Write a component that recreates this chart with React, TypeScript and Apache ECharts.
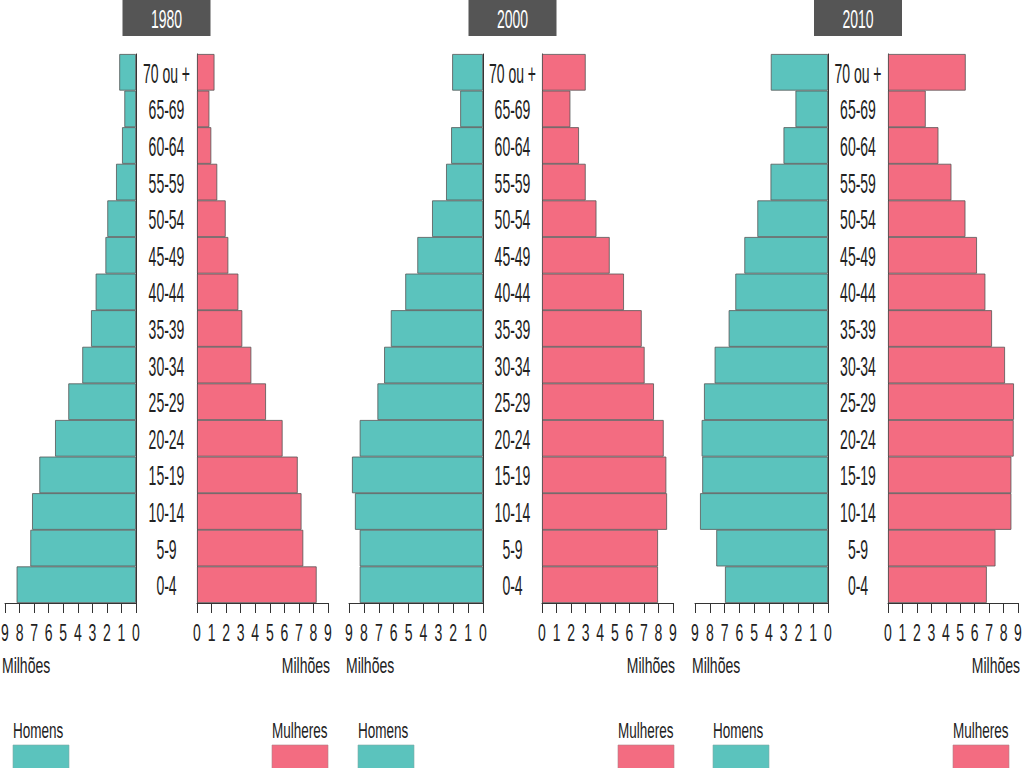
import React, { useEffect, useRef } from "react";
import * as echarts from "echarts";

const ageGroups = ["0-4", "5-9", "10-14", "15-19", "20-24", "25-29", "30-34", "35-39", "40-44", "45-49", "50-54", "55-59", "60-64", "65-69", "70 ou +"];
const years = ["1980", "2000", "2010"];
const men1980 = [8.2, 7.26, 7.14, 6.64, 5.56, 4.65, 3.69, 3.09, 2.77, 2.1, 1.97, 1.37, 0.96, 0.8, 1.15];
const women1980 = [8.22, 7.3, 7.18, 6.92, 5.88, 4.74, 3.73, 3.11, 2.84, 2.15, 1.97, 1.39, 0.98, 0.85, 1.2];
const men2000 = [8.28, 8.28, 8.6, 8.8, 8.28, 7.09, 6.64, 6.19, 5.22, 4.41, 3.42, 2.48, 2.14, 1.53, 2.07];
const women2000 = [7.97, 7.97, 8.59, 8.54, 8.36, 7.69, 7.05, 6.85, 5.63, 4.65, 3.74, 3.0, 2.54, 1.95, 3.0];
const men2010 = [6.97, 7.56, 8.66, 8.51, 8.55, 8.39, 7.67, 6.72, 6.27, 5.66, 4.78, 3.89, 3.01, 2.2, 3.87];
const women2010 = [6.84, 7.44, 8.54, 8.54, 8.7, 8.72, 8.1, 7.2, 6.74, 6.16, 5.36, 4.39, 3.49, 2.61, 5.38];
const tickValues = [0, 1, 2, 3, 4, 5, 6, 7, 8, 9];
const menLabel = "Homens";
const womenLabel = "Mulheres";
const unitLabel = "Milhões";

const menSeries = [men1980, men2000, men2010];
const womenSeries = [women1980, women2000, women2010];

const FONT = "'Liberation Sans', Arial, Helvetica, sans-serif";
const TEAL = "#5bc3bd";
const PINK = "#f36c81";
const BORDER = "#555555";
const AXIS = "#333";
const TEXT = "#222";

// layout of the three panels
const panels = [
  { menL: 5, menR: 136, womL: 197, womR: 328, homX: 13, mulX: 272 },
  { menL: 349, menR: 483, womL: 542, womR: 673, homX: 358, mulX: 618 },
  { menL: 695, menR: 828, womL: 888, womR: 1018, homX: 713, mulX: 953 },
];
const TOP = 54;
const BOTTOM_Y = 603;

function txt(text: string, x: number, y: number, size: number, sy: number, align: string, fill = TEXT) {
  return {
    type: "text",
    x,
    y,
    scaleX: 1,
    scaleY: sy,
    silent: true,
    style: { text, fill, fontSize: size, fontFamily: FONT, align, verticalAlign: "middle" },
  };
}

export default function App() {
  const ref = useRef<HTMLDivElement>(null);
  useEffect(() => {
    if (!ref.current) return;
    const chart = echarts.init(ref.current, undefined, { renderer: "svg" });
    const grid: any[] = [];
    const xAxis: any[] = [];
    const yAxis: any[] = [];
    const series: any[] = [];
    const h = BOTTOM_Y - TOP;

    panels.forEach((p, i) => {
      grid.push({ left: p.menL, top: TOP, width: p.menR - p.menL, height: h });
      grid.push({ left: p.womL, top: TOP, width: p.womR - p.womL, height: h });
      const xCommon = {
        type: "value",
        min: 0,
        max: 9,
        interval: 1,
        position: "bottom",
        splitLine: { show: false },
        axisLine: { show: true, lineStyle: { color: AXIS, width: 1 } },
        axisTick: { show: true, length: 10, lineStyle: { color: AXIS } },
        axisLabel: { show: false },
      };
      xAxis.push({ ...xCommon, gridIndex: 2 * i, inverse: true });
      xAxis.push({ ...xCommon, gridIndex: 2 * i + 1 });
      const yCommon = {
        type: "category",
        data: ageGroups,
        axisLine: { show: true, lineStyle: { color: AXIS, width: 1 } },
        axisTick: { show: false },
        axisLabel: { show: false },
        splitLine: { show: false },
      };
      yAxis.push({ ...yCommon, gridIndex: 2 * i, position: "right" });
      yAxis.push({ ...yCommon, gridIndex: 2 * i + 1, position: "left" });
      series.push({
        type: "bar",
        name: menLabel + " " + years[i],
        xAxisIndex: 2 * i,
        yAxisIndex: 2 * i,
        data: menSeries[i],
        barCategoryGap: "0%",
        itemStyle: { color: TEAL, borderColor: BORDER, borderWidth: 0.8 },
      });
      series.push({
        type: "bar",
        name: womenLabel + " " + years[i],
        xAxisIndex: 2 * i + 1,
        yAxisIndex: 2 * i + 1,
        data: womenSeries[i],
        barCategoryGap: "0%",
        itemStyle: { color: PINK, borderColor: BORDER, borderWidth: 0.8 },
      });
    });

    chart.setOption({
      animation: false,
      backgroundColor: "#ffffff",
      grid,
      xAxis,
      yAxis,
      series,
    });

    // texts, placed through the axes' own scales
    const graphic: any[] = [];
    panels.forEach((p, i) => {
      const mi = 2 * i;
      const wi = 2 * i + 1;
      const menZero = chart.convertToPixel({ xAxisIndex: mi }, 0) as number;
      const womZero = chart.convertToPixel({ xAxisIndex: wi }, 0) as number;
      const center = (menZero + womZero) / 2;
      // title box
      graphic.push({
        type: "rect",
        shape: { x: center - 44, y: 0, width: 88, height: 36 },
        style: { fill: "#555555" },
      });
      graphic.push(txt(years[i], center, 19, 14, 1.9, "center", "#ffffff"));
      // category labels
      ageGroups.forEach((a) => {
        const y = chart.convertToPixel({ yAxisIndex: wi }, a) as number;
        graphic.push(txt(a, center, y + 1, 14, 2.0, "center"));
      });
      // tick labels
      tickValues.forEach((v) => {
        const xm = chart.convertToPixel({ xAxisIndex: mi }, v) as number;
        const xw = chart.convertToPixel({ xAxisIndex: wi }, v) as number;
        graphic.push(txt(String(v), xm, BOTTOM_Y + 30, 14, 1.65, "center"));
        graphic.push(txt(String(v), xw, BOTTOM_Y + 30, 14, 1.65, "center"));
      });
      const menFar = chart.convertToPixel({ xAxisIndex: mi }, 9) as number;
      const womFar = chart.convertToPixel({ xAxisIndex: wi }, 9) as number;
      graphic.push(txt(unitLabel, menFar - 3, 665, 14, 1.6, "left"));
      graphic.push(txt(unitLabel, womFar + 2, 665, 14, 1.6, "right"));
      // legends
      graphic.push(txt(menLabel, p.homX, 730, 13.5, 1.65, "left"));
      graphic.push({
        type: "rect",
        shape: { x: p.homX, y: 745, width: 56, height: 24 },
        style: { fill: TEAL, stroke: "#7fa8a5", lineWidth: 0.6 },
      });
      graphic.push(txt(womenLabel, p.mulX, 730, 13.5, 1.65, "left"));
      graphic.push({
        type: "rect",
        shape: { x: p.mulX, y: 745, width: 56, height: 24 },
        style: { fill: PINK, stroke: "#b08088", lineWidth: 0.6 },
      });
    });
    chart.setOption({ graphic });

    return () => chart.dispose();
  }, []);
  return (
    <div
      ref={ref}
      style={{ position: "absolute", left: 0, top: 0, width: 1024, height: 768 }}
    />
  );
}
